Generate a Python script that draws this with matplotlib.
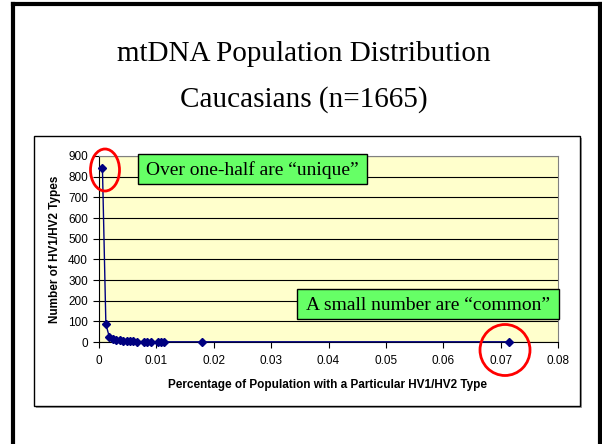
import matplotlib.pyplot as plt
from matplotlib.patches import Rectangle, Ellipse
from matplotlib.lines import Line2D

# ----------------------------
# Data
# ----------------------------
pct_population = [0.0006, 0.0012, 0.0018, 0.0024, 0.0030, 0.0036, 0.0042,
                  0.0048, 0.0054, 0.0060, 0.0066, 0.0078, 0.0084, 0.0090,
                  0.0102, 0.0108, 0.0114, 0.0180, 0.0715]
num_types = [840, 85, 25, 15, 10, 8, 6, 5, 4, 3, 2, 2, 1, 1, 1, 1, 1, 1, 1]

x_ticks = [0, 0.01, 0.02, 0.03, 0.04, 0.05, 0.06, 0.07, 0.08]
x_tick_labels = ["0", "0.01", "0.02", "0.03", "0.04", "0.05", "0.06", "0.07", "0.08"]
y_ticks = [0, 100, 200, 300, 400, 500, 600, 700, 800, 900]

W, H = 602, 444


def fx(px):
    return px / W


def fy(py):
    return 1 - py / H


fig = plt.figure(figsize=(W / 100, H / 100), dpi=100)
fig.patch.set_facecolor("white")

# slide frame (no bottom edge)
for xs, ys in [([13, 13], [4, 444]), ([13, 600], [4, 4]), ([600, 600], [4, 444])]:
    fig.add_artist(Line2D([fx(v) for v in xs], [fy(v) for v in ys],
                          color="black", lw=3, transform=fig.transFigure))

# title
fig.text(fx(304), fy(54), "mtDNA Population Distribution", ha="center", va="center",
         fontsize=21, family="Liberation Serif")
fig.text(fx(304), fy(100), "Caucasians (n=1665)", ha="center", va="center",
         fontsize=21, family="Liberation Serif")

# chart box with shadow
fig.add_artist(Rectangle((fx(36), fy(408)), fx(546), 270 / H, transform=fig.transFigure,
                         facecolor="#a0a0a0", edgecolor="none", zorder=0.5))
fig.add_artist(Rectangle((fx(34), fy(406)), fx(546), 270 / H, transform=fig.transFigure,
                         facecolor="white", edgecolor="black", lw=1, zorder=0.6))

# ----------------------------
# Plot
# ----------------------------
ax = fig.add_axes([fx(99), fy(342), fx(558 - 99), (342 - 156) / H])
ax.set_zorder(2)
ax.set_facecolor("#FFFFCC")
ax.plot(pct_population, num_types, color="#000080", lw=1, marker="D", markersize=4,
        zorder=3, clip_on=False)
ax.set_xlim(0, 0.08)
ax.set_ylim(0, 900)
ax.set_xticks(x_ticks)
ax.set_xticklabels(x_tick_labels)
ax.set_yticks(y_ticks)
ax.yaxis.grid(True, color="black", lw=0.8)
ax.set_axisbelow(True)
for side in ["top", "right"]:
    ax.spines[side].set_color("#808080")
ax.tick_params(direction="out", length=4, labelsize=8.5, pad=5)
ax.tick_params(axis="y", pad=4)
for lab in ax.get_xticklabels() + ax.get_yticklabels():
    lab.set_family("Liberation Sans")

fig.text(fx(55), fy(249), "Number of HV1/HV2 Types", rotation=90, ha="center",
         va="center", fontsize=8.5, fontweight="bold", family="Liberation Sans",
         zorder=3)
fig.text(fx(328), fy(385), "Percentage of Population with a Particular HV1/HV2 Type",
         ha="center", va="center", fontsize=8.5, fontweight="bold",
         family="Liberation Sans", zorder=3)

# callout boxes
fig.add_artist(Rectangle((fx(138), fy(184)), fx(367 - 138), 30 / H,
                         transform=fig.transFigure, facecolor="#66FF66",
                         edgecolor="black", lw=1, zorder=4))
fig.text(fx(252), fy(170), "Over one-half are \u201cunique\u201d", ha="center",
         va="center", fontsize=14, family="Liberation Serif", zorder=5)
fig.add_artist(Rectangle((fx(297), fy(319)), fx(559 - 297), 30 / H,
                         transform=fig.transFigure, facecolor="#66FF66",
                         edgecolor="black", lw=1, zorder=4))
fig.text(fx(428), fy(305), "A small number are \u201ccommon\u201d", ha="center",
         va="center", fontsize=14, family="Liberation Serif", zorder=5)

# red circles
fig.add_artist(Ellipse((fx(105), fy(170)), fx(29), 42 / H, transform=fig.transFigure,
                       facecolor="none", edgecolor="red", lw=2, zorder=5))
fig.add_artist(Ellipse((fx(505), fy(350)), fx(50), 51 / H, transform=fig.transFigure,
                       facecolor="none", edgecolor="red", lw=2, zorder=5))

fig.savefig("out.png", dpi=100)
